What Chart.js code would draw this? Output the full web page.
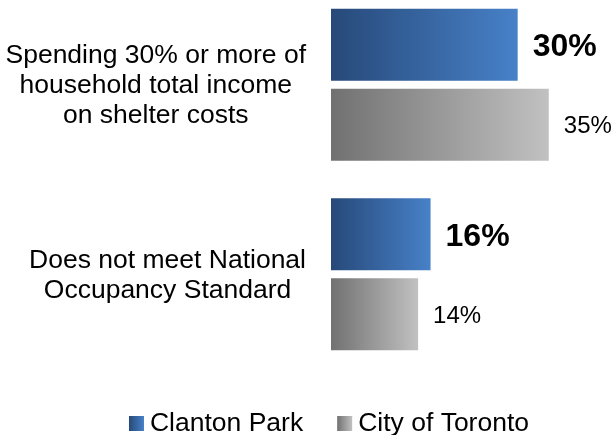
<!DOCTYPE html>
<html>
<head>
<meta charset="utf-8">
<script src="https://cdn.jsdelivr.net/npm/chart.js@4"></script>
<style>
  html, body { margin: 0; padding: 0; background: #ffffff; overflow: hidden; }
  #wrap { position: relative; width: 614px; height: 445px; margin-top: -10px; }
</style>
</head>
<body>
<div id="wrap"><canvas id="chart" width="614" height="445"></canvas></div>
<script>
const categories = [
    ['Spending 30% or more of', 'household total income', 'on shelter costs'],
    ['Does not meet National', 'Occupancy Standard']
];
const seriesNames = ['Clanton Park', 'City of Toronto'];
const clantonPark = [30, 16];
const cityOfToronto = [35, 14];

const fontFamily = '"Liberation Sans", Arial, Helvetica, sans-serif';
const blueStops = ['#274979', '#4781c8'];
const grayStops = ['#717171', '#c1c1c1'];
const valueFonts = ['bold 32px ' + fontFamily, '24px ' + fontFamily];
const valueSizes = [32, 24];

function barGradient(stops) {
    return function(context) {
        const chart = context.chart;
        if (!chart.chartArea || context.type !== 'data') {
            return stops[1];
        }
        const xScale = chart.scales.x;
        const x0 = xScale.getPixelForValue(0);
        const x1 = xScale.getPixelForValue(context.raw);
        const gradient = chart.ctx.createLinearGradient(x0, 0, x1, 0);
        gradient.addColorStop(0, stops[0]);
        gradient.addColorStop(1, stops[1]);
        return gradient;
    };
}

// value labels next to each bar
const valueLabels = {
    id: 'valueLabels',
    afterDatasetsDraw(chart) {
        const ctx = chart.ctx;
        ctx.save();
        ctx.fillStyle = '#000000';
        ctx.textAlign = 'left';
        ctx.textBaseline = 'alphabetic';
        chart.data.datasets.forEach((ds, i) => {
            const meta = chart.getDatasetMeta(i);
            ctx.font = valueFonts[i];
            meta.data.forEach((bar, j) => {
                ctx.fillText(ds.data[j] + '%', bar.x + 15, bar.y + valueSizes[i] * 0.358);
            });
        });
        ctx.restore();
    }
};

// category labels: lines centred within each block, blocks right-aligned
const categoryLabels = {
    id: 'categoryLabels',
    afterDraw(chart) {
        const ctx = chart.ctx;
        const yScale = chart.scales.y;
        const right = 306;
        const lineHeight = 30;
        ctx.save();
        ctx.font = '26.5px ' + fontFamily;
        ctx.fillStyle = '#000000';
        ctx.textAlign = 'center';
        ctx.textBaseline = 'alphabetic';
        chart.data.labels.forEach((lines, j) => {
            const cy = yScale.getPixelForValue(j);
            const blockWidth = Math.max(...lines.map(l => ctx.measureText(l).width));
            const cx = right - blockWidth / 2;
            lines.forEach((line, k) => {
                const y = cy + 8.5 + (k - (lines.length - 1) / 2) * lineHeight;
                ctx.fillText(line, cx, y);
            });
        });
        ctx.restore();
    }
};

// legend with gradient boxes
const gradientLegend = {
    id: 'gradientLegend',
    afterDraw(chart) {
        const ctx = chart.ctx;
        const box = 15;
        const gap = 6;
        const itemGap = 34;
        const baseline = 441;
        const centerX = 329;
        ctx.save();
        ctx.font = '26.5px ' + fontFamily;
        const widths = seriesNames.map(n => ctx.measureText(n).width);
        const total = widths.reduce((a, w) => a + box + gap + w, 0) + itemGap * (seriesNames.length - 1);
        let x = centerX - total / 2;
        chart.data.datasets.forEach((ds, i) => {
            const stops = i === 0 ? blueStops : grayStops;
            const g = ctx.createLinearGradient(x, 0, x + box, 0);
            g.addColorStop(0, stops[0]);
            g.addColorStop(1, stops[1]);
            ctx.fillStyle = g;
            ctx.fillRect(x, baseline - box, box, box);
            ctx.fillStyle = '#000000';
            ctx.textAlign = 'left';
            ctx.textBaseline = 'alphabetic';
            ctx.fillText(seriesNames[i], x + box + gap, baseline);
            x += box + gap + widths[i] + itemGap;
        });
        ctx.restore();
    }
};

const ctx = document.getElementById('chart').getContext('2d');
new Chart(ctx, {
    type: 'bar',
    data: {
        labels: categories,
        datasets: [
            {
                label: seriesNames[0],
                data: clantonPark,
                backgroundColor: barGradient(blueStops),
                borderWidth: 0,
                categoryPercentage: 0.844,
                barPercentage: 0.9
            },
            {
                label: seriesNames[1],
                data: cityOfToronto,
                backgroundColor: barGradient(grayStops),
                borderWidth: 0,
                categoryPercentage: 0.844,
                barPercentage: 0.9
            }
        ]
    },
    options: {
        indexAxis: 'y',
        responsive: false,
        animation: false,
        layout: {
            padding: { left: 331, right: 3, top: 0, bottom: 66 }
        },
        scales: {
            x: {
                display: false,
                min: 0,
                max: 45
            },
            y: {
                display: false
            }
        },
        plugins: {
            legend: { display: false },
            tooltip: { enabled: false }
        }
    },
    plugins: [valueLabels, categoryLabels, gradientLegend]
});
</script>
</body>
</html>
